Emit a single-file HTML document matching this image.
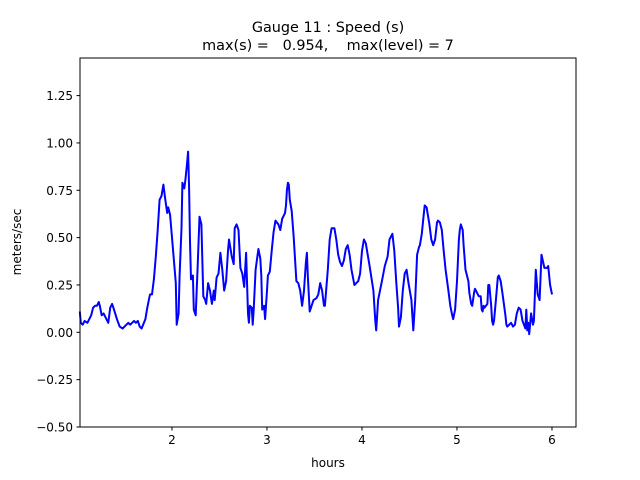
<!DOCTYPE html>
<html><head><meta charset="utf-8"><style>
html,body{margin:0;padding:0;background:#fff;}
svg{display:block;font-family:"DejaVu Sans","Liberation Sans",sans-serif;}
</style></head><body>
<svg id="chart" width="640" height="480" viewBox="0 0 640 480" xmlns="http://www.w3.org/2000/svg">
<rect width="640" height="480" fill="#fff"/>
<text x="328" y="32" text-anchor="middle" font-size="14.4">Gauge 11 : Speed (s)</text>
<text x="328" y="50" text-anchor="middle" font-size="14.4" xml:space="preserve">max(s) =   0.954,    max(level) = 7</text>
<g id="plot"></g>
<rect x="80" y="58" width="496" height="369" fill="none" stroke="#000" stroke-width="1"/>
<text x="328" y="467" text-anchor="middle" font-size="12">hours</text>
<text transform="translate(21,242) rotate(-90)" text-anchor="middle" font-size="12">meters/sec</text>
</svg>
<script>
const hours=[1.03,1.04,1.06,1.08,1.11,1.13,1.15,1.17,1.19,1.21,1.23,1.24,1.26,1.28,1.31,1.33,1.35,1.37,1.39,1.42,1.45,1.48,1.52,1.54,1.56,1.58,1.60,1.62,1.64,1.66,1.68,1.72,1.74,1.76,1.77,1.79,1.81,1.83,1.85,1.87,1.89,1.91,1.93,1.95,1.96,1.98,2.00,2.02,2.04,2.05,2.07,2.08,2.10,2.11,2.13,2.14,2.16,2.17,2.18,2.19,2.20,2.22,2.23,2.25,2.27,2.29,2.31,2.33,2.35,2.36,2.38,2.40,2.42,2.44,2.45,2.47,2.49,2.51,2.53,2.55,2.57,2.59,2.60,2.63,2.65,2.66,2.68,2.70,2.72,2.74,2.76,2.78,2.80,2.81,2.82,2.84,2.85,2.86,2.88,2.91,2.93,2.94,2.95,2.97,2.98,3.00,3.01,3.03,3.05,3.07,3.09,3.12,3.14,3.16,3.18,3.19,3.20,3.21,3.22,3.23,3.24,3.26,3.28,3.31,3.33,3.35,3.37,3.39,3.41,3.42,3.43,3.45,3.47,3.49,3.52,3.54,3.56,3.58,3.60,3.61,3.64,3.66,3.68,3.71,3.73,3.75,3.77,3.79,3.81,3.83,3.85,3.87,3.89,3.92,3.94,3.96,3.98,4.00,4.02,4.04,4.06,4.08,4.12,4.14,4.15,4.17,4.19,4.21,4.24,4.27,4.29,4.32,4.34,4.36,4.38,4.39,4.41,4.43,4.45,4.47,4.49,4.52,4.54,4.56,4.58,4.60,4.61,4.63,4.65,4.66,4.68,4.71,4.73,4.75,4.77,4.79,4.80,4.82,4.84,4.86,4.88,4.91,4.93,4.95,4.96,4.98,5.00,5.02,5.03,5.04,5.06,5.07,5.09,5.12,5.13,5.15,5.16,5.18,5.19,5.21,5.23,5.25,5.26,5.27,5.28,5.29,5.32,5.33,5.34,5.36,5.37,5.38,5.39,5.41,5.43,5.44,5.46,5.48,5.51,5.52,5.53,5.55,5.57,5.59,5.61,5.63,5.65,5.67,5.69,5.72,5.73,5.74,5.75,5.76,5.78,5.80,5.81,5.83,5.85,5.87,5.89,5.92,5.95,5.96,5.98,6.00];
const speed=[.11,.05,.04,.06,.05,.07,.09,.13,.14,.14,.16,.14,.09,.10,.07,.05,.13,.15,.12,.07,.03,.02,.04,.05,.04,.05,.06,.05,.06,.03,.02,.07,.13,.18,.20,.20,.28,.40,.54,.70,.72,.78,.70,.63,.66,.62,.50,.38,.26,.04,.10,.30,.55,.79,.76,.80,.90,.954,.76,.48,.28,.30,.12,.09,.34,.61,.57,.19,.17,.15,.26,.22,.15,.22,.17,.29,.31,.42,.33,.22,.27,.43,.49,.40,.36,.55,.57,.54,.34,.31,.24,.42,.10,.05,.14,.13,.04,.12,.33,.44,.39,.30,.12,.14,.07,.22,.30,.32,.43,.53,.59,.57,.54,.60,.62,.63,.67,.75,.79,.78,.70,.64,.51,.27,.26,.22,.14,.22,.37,.42,.30,.11,.14,.17,.18,.20,.26,.22,.14,.14,.33,.49,.55,.55,.49,.41,.37,.35,.38,.44,.46,.41,.33,.25,.26,.27,.31,.43,.49,.47,.41,.35,.22,.06,.01,.17,.22,.27,.35,.40,.49,.52,.43,.27,.13,.03,.08,.22,.31,.33,.26,.17,.01,.17,.41,.45,.46,.52,.62,.67,.66,.57,.49,.46,.49,.58,.59,.58,.54,.43,.33,.22,.14,.09,.07,.12,.27,.49,.54,.57,.54,.46,.33,.27,.21,.15,.14,.21,.23,.21,.19,.19,.12,.11,.14,.13,.15,.25,.25,.14,.06,.04,.06,.17,.29,.30,.27,.20,.09,.04,.03,.04,.05,.03,.04,.10,.13,.12,.06,.02,.12,.01,.05,-.01,.10,.04,.06,.33,.20,.17,.41,.34,.34,.35,.25,.20];
const xTicks=[2,3,4,5,6];
const yTicks=[-0.5,-0.25,0,0.25,0.5,0.75,1.0,1.25];
const yTickLabels=["\u22120.50","\u22120.25","0.00","0.25","0.50","0.75","1.00","1.25"];
const X0=80,X1=576,Y0=427,Y1=58;
const xMin=1.032,xMax=6.253,yMin=-0.5,yMax=1.4485;
function sx(v){return X0+(v-xMin)/(xMax-xMin)*(X1-X0);}
function sy(v){return Y0-(v-yMin)/(yMax-yMin)*(Y0-Y1);}
const NS="http://www.w3.org/2000/svg";
const svg=document.getElementById('chart');
const plot=document.getElementById('plot');
xTicks.forEach(t=>{
  const l=document.createElementNS(NS,'line');
  
  
  l.setAttribute('x1',sx(t));l.setAttribute('x2',sx(t));l.setAttribute('y1',Y0);l.setAttribute('y2',Y0+3.5);l.setAttribute('stroke','#000');
  svg.appendChild(l);
  const tx=document.createElementNS(NS,'text');
  
  
  tx.setAttribute('x',sx(t));tx.setAttribute('y',Y0+17);tx.setAttribute('text-anchor','middle');tx.setAttribute('font-size','12');
  tx.textContent=String(t);svg.appendChild(tx);
});
yTicks.forEach((t,i)=>{
  const l=document.createElementNS(NS,'line');
  
  
  l.setAttribute('x1',X0-3.5);l.setAttribute('x2',X0);l.setAttribute('y1',sy(t));l.setAttribute('y2',sy(t));l.setAttribute('stroke','#000');
  svg.appendChild(l);
  const tx=document.createElementNS(NS,'text');
  
  
  tx.setAttribute('x',X0-7);tx.setAttribute('y',sy(t)+4.5);tx.setAttribute('text-anchor','end');tx.setAttribute('font-size','12');
  tx.textContent=yTickLabels[i];svg.appendChild(tx);
});
const p=document.createElementNS(NS,'polyline');


p.setAttribute('points',hours.map((h,i)=>sx(h).toFixed(1)+','+sy(speed[i]).toFixed(1)).join(' '));
p.setAttribute('fill','none');p.setAttribute('stroke','#0000ff');p.setAttribute('stroke-width','2');p.setAttribute('stroke-linejoin','round');
plot.appendChild(p);
</script>
</body></html>
